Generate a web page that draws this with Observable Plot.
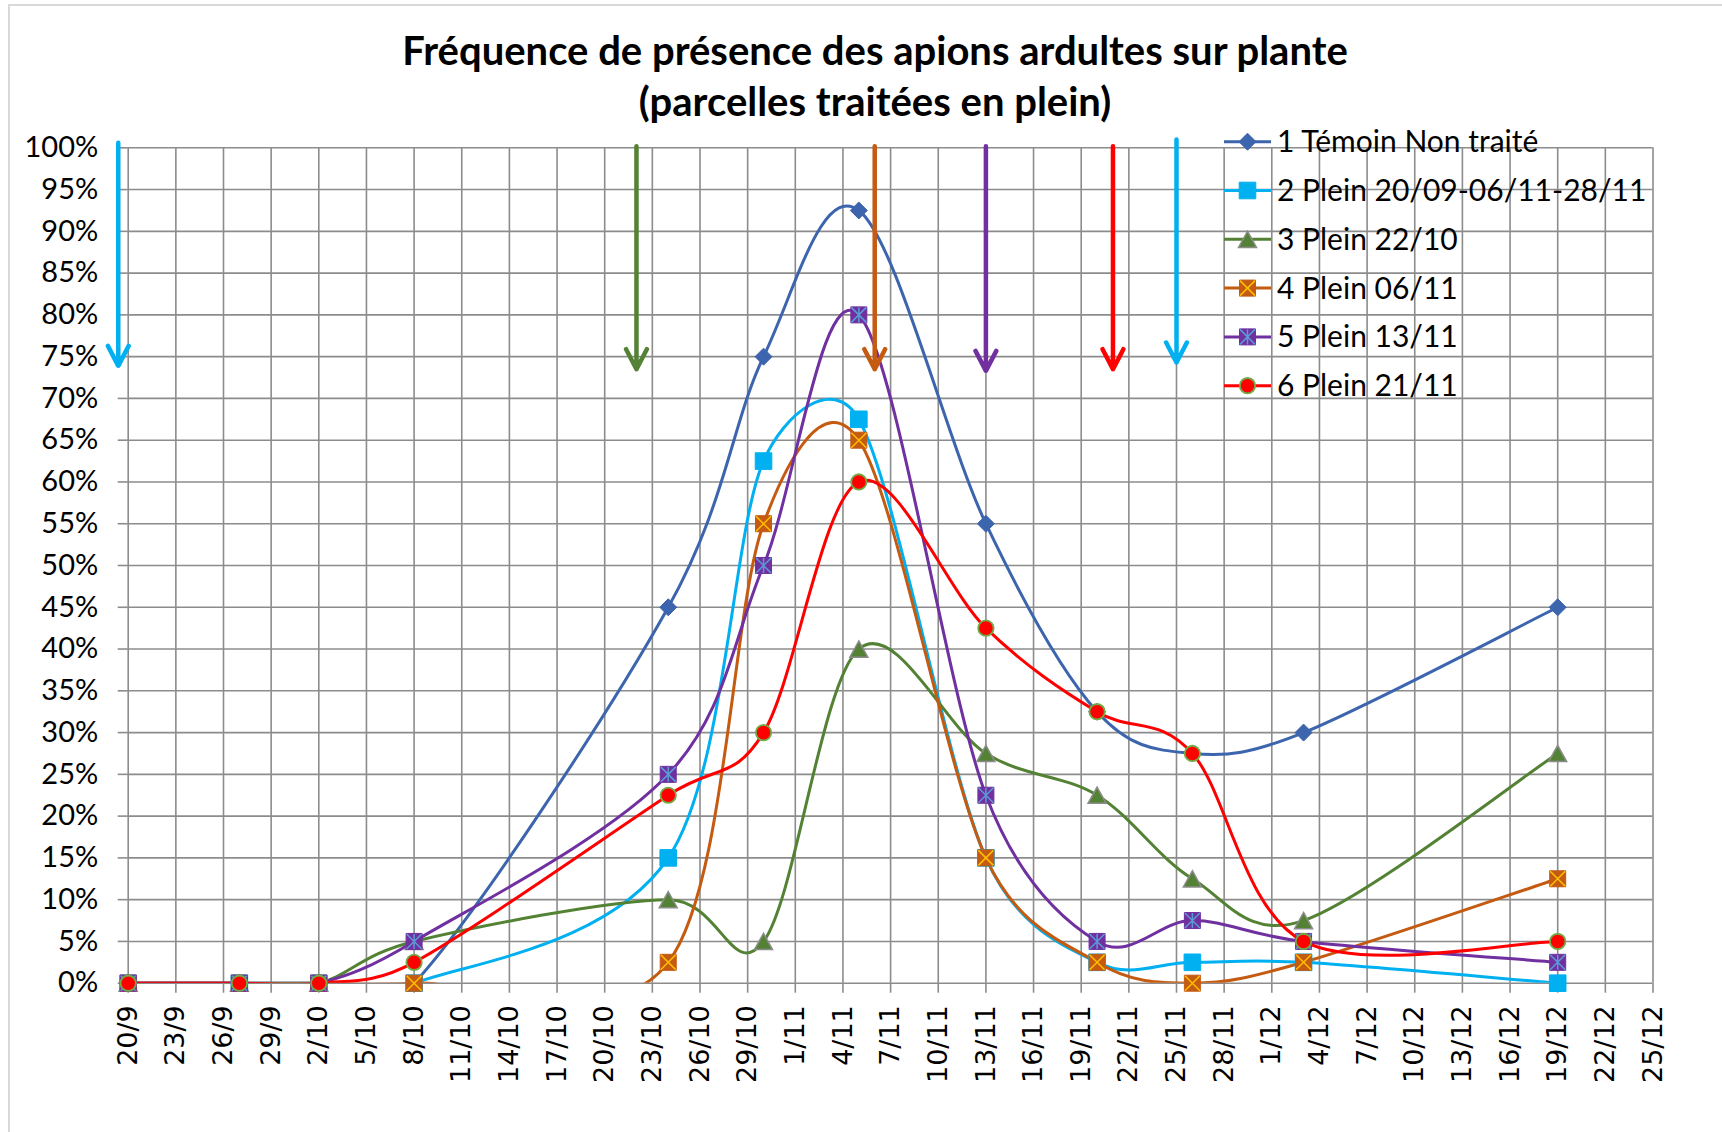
<!DOCTYPE html>
<html>
<head>
<meta charset="utf-8">
<script src="https://cdn.jsdelivr.net/npm/d3@7"></script>
<script src="https://cdn.jsdelivr.net/npm/@observablehq/plot@0.6"></script>
<style>
html, body { margin: 0; padding: 0; background: #ffffff; }
body { width: 1722px; height: 1132px; overflow: hidden; position: relative; }
#frame { position: absolute; left: 8px; top: 4px; width: 1800px; height: 1200px;
  border-top: 2px solid #d9d9d9; border-left: 2px solid #d9d9d9; pointer-events: none; }
#title { box-sizing: border-box; height: 120px; width: 1750px; padding-top: 25px;
  text-align: center; font-family: Lato, sans-serif; font-weight: bold; font-size: 40px;
  line-height: 51px; color: #000; position: relative; }
#chart { position: relative; }
</style>
</head>
<body>
<div id="frame"></div>
<div id="title">Fréquence de présence des apions ardultes sur plante<br>(parcelles traitées en plein)</div>
<div id="chart"></div>
<script>
// ---------- data ----------
const sampleDates = ["20/9","27/9","2/10","8/10","24/10","30/10","5/11","13/11","20/11","26/11","3/12","19/12"];
const seriesNames = ["1 Témoin Non traité","2 Plein 20/09-06/11-28/11","3 Plein 22/10","4 Plein 06/11","5 Plein 13/11","6 Plein 21/11"];
const temoin      = [0, 0, 0, 0,   45,   75,   92.5, 55,   32.5, 27.5, 30,  45];
const plein2      = [0, 0, 0, 0,   15,   62.5, 67.5, 15,   2.5,  2.5,  2.5, 0];
const plein3      = [0, 0, 0, 5,   10,   5,    40,   27.5, 22.5, 12.5, 7.5, 27.5];
const plein4      = [0, 0, 0, 0,   2.5,  55,   65,   15,   2.5,  0,    2.5, 12.5];
const plein5      = [0, 0, 0, 5,   25,   50,   80,   22.5, 5,    7.5,  5,   2.5];
const plein6      = [0, 0, 0, 2.5, 22.5, 30,   60,   42.5, 32.5, 27.5, 5,   5];
const seriesValues = [temoin, plein2, plein3, plein4, plein5, plein6];

const xTickLabels = ["20/9","23/9","26/9","29/9","2/10","5/10","8/10","11/10","14/10","17/10","20/10","23/10","26/10","29/10","1/11","4/11","7/11","10/11","13/11","16/11","19/11","22/11","25/11","28/11","1/12","4/12","7/12","10/12","13/12","16/12","19/12","22/12","25/12"];
const yTicks = [0,5,10,15,20,25,30,35,40,45,50,55,60,65,70,75,80,85,90,95,100];

// treatment arrows (as drawn on the picture)
const arrowDates = ["2013-09-19T09:00Z","2013-10-22T00:00Z","2013-11-06T00:00Z","2013-11-13T00:00Z","2013-11-21T00:00Z","2013-11-25T00:00Z"];
const arrowTop   = [100.6, 100.2, 100.2, 100.2, 100.2, 101];
const arrowTip   = [73.9, 73.5, 73.5, 73.3, 73.5, 74.3];
const arrowColors = ["#00b0f0","#548235","#c55a11","#7030a0","#ff0000","#00b0f0"];

// ---------- styles ----------
const colors = ["#3c65ae","#00b0f0","#548235","#c55a11","#7030a0","#ff0000"];
const GRID = "#8c8c8c";

const rOf = size => Math.sqrt(size / Math.PI);
const symDiamond = {draw(c, s){ const r = rOf(s); c.moveTo(0,-r); c.lineTo(r,0); c.lineTo(0,r); c.lineTo(-r,0); c.closePath(); }};
const symSquare = {draw(c, s){ const r = rOf(s); c.rect(-r,-r,2*r,2*r); }};
const symTriangle = {draw(c, s){ const r = rOf(s); c.moveTo(0,-0.9*r); c.lineTo(r,0.9*r); c.lineTo(-r,0.9*r); c.closePath(); }};
const symCircle = {draw(c, s){ const r = rOf(s); c.moveTo(r,0); c.arc(0,0,r,0,2*Math.PI); }};
const symTimes = {draw(c, s){ const r = rOf(s); c.moveTo(-r,-r); c.lineTo(r,r); c.moveTo(r,-r); c.lineTo(-r,r); }};
const symAster = {draw(c, s){ const r = rOf(s); c.moveTo(0,-r); c.lineTo(0,r); c.moveTo(-r,-r); c.lineTo(r,r); c.moveTo(r,-r); c.lineTo(-r,r); }};

const markerSpecs = [
  [{symbol: symDiamond, r: 8.5, fill: "#3c65ae", stroke: "#3c65ae", strokeWidth: 1}],
  [{symbol: symSquare, r: 8.3, fill: "#00b0f0", stroke: "#00b0f0", strokeWidth: 1}],
  [{symbol: symTriangle, r: 9, fill: "#548235", stroke: "#8c8c8c", strokeWidth: 1.5}],
  [{symbol: symSquare, r: 8, fill: "#c55a11", stroke: "#c55a11", strokeWidth: 1},
   {symbol: symTimes, r: 7.5, fill: "none", stroke: "#ffc000", strokeWidth: 1.5}],
  [{symbol: symSquare, r: 8, fill: "#7030a0", stroke: "#7030a0", strokeWidth: 1},
   {symbol: symAster, r: 7.5, fill: "none", stroke: "#5b9bd5", strokeWidth: 1.5}],
  [{symbol: symCircle, r: 7.7, fill: "#ff0000", stroke: "#70ad47", strokeWidth: 1.8}]
];

// Spreadsheet-style smoothing: Bezier segments, tangents (P[i+1]-P[i-1])/6 limited to half the segment length
const SMOOTH_LIMIT = 0.5;
function smoothCurve(context) {
  let pts = [];
  return {
    areaStart() {}, areaEnd() {},
    lineStart() { pts = []; },
    point(x, y) { pts.push([+x, +y]); },
    lineEnd() {
      const n = pts.length;
      if (!n) return;
      context.moveTo(pts[0][0], pts[0][1]);
      if (n === 2) { context.lineTo(pts[1][0], pts[1][1]); return; }
      for (let i = 0; i < n - 1; i++) {
        const p0 = pts[Math.max(0, i - 1)], p1 = pts[i], p2 = pts[i + 1], p3 = pts[Math.min(n - 1, i + 2)];
        const lim = SMOOTH_LIMIT * Math.hypot(p2[0] - p1[0], p2[1] - p1[1]);
        let t1 = [(p2[0] - p0[0]) / 6, (p2[1] - p0[1]) / 6];
        let t2 = [(p3[0] - p1[0]) / 6, (p3[1] - p1[1]) / 6];
        const m1 = Math.hypot(t1[0], t1[1]), m2 = Math.hypot(t2[0], t2[1]);
        if (m1 > lim && m1 > 0) t1 = [t1[0] * lim / m1, t1[1] * lim / m1];
        if (m2 > lim && m2 > 0) t2 = [t2[0] * lim / m2, t2[1] * lim / m2];
        context.bezierCurveTo(p1[0] + t1[0], p1[1] + t1[1], p2[0] - t2[0], p2[1] - t2[1], p2[0], p2[1]);
      }
    }
  };
}

// ---------- build ----------
const parseDM = s => { const [d, m] = s.split("/").map(Number); return new Date(Date.UTC(2013, m - 1, d)); };
const xTicks = xTickLabels.map(parseDM);
const labelByTime = new Map(xTicks.map((d, i) => [+d, xTickLabels[i]]));

const rows = [];
seriesValues.forEach((vals, i) => vals.forEach((v, j) => rows.push({s: i, date: parseDM(sampleDates[j]), v})));
const arrows = arrowDates.map((d, i) => ({date: new Date(d), top: arrowTop[i], tip: arrowTip[i], color: arrowColors[i]}));

const marks = [
  Plot.gridY(yTicks, {stroke: GRID, strokeOpacity: 1, strokeWidth: 1.6}),
  Plot.gridX(xTicks, {stroke: GRID, strokeOpacity: 1, strokeWidth: 1.6}),
  Plot.axisY(yTicks, {tickFormat: d => d + "%", tickSize: 10, tickPadding: 20, stroke: GRID, strokeWidth: 1.6,
    color: "#000", fontSize: 29, fontFamily: "Lato"}),
  Plot.axisX(xTicks, {tickFormat: d => labelByTime.get(+d), tickSize: 10, tickPadding: 12, tickRotate: -90,
    stroke: GRID, strokeWidth: 1.6, color: "#000", fontSize: 27, fontFamily: "DejaVu Sans"})
];

seriesValues.forEach((_, i) => {
  marks.push(Plot.line(rows.filter(r => r.s === i), {x: "date", y: "v", stroke: colors[i], strokeWidth: 3,
    curve: smoothCurve, clip: true}));
});
seriesValues.forEach((_, i) => {
  for (const spec of markerSpecs[i]) {
    marks.push(Plot.dot(rows.filter(r => r.s === i), {x: "date", y: "v", ...spec}));
  }
});
arrows.forEach(a => {
  marks.push(Plot.arrow([a], {x1: "date", x2: "date", y1: "top", y2: "tip", stroke: a.color,
    strokeWidth: 4.5, headAngle: 55, headLength: 7.5}));
});

const svgTop = 120;
const chart = Plot.plot({
  width: 1722,
  height: 1132 - svgTop,
  marginTop: 147.3 - svgTop,
  marginBottom: 1132 - 982.7,
  marginLeft: 127.7,
  marginRight: 1722 - 1652.5,
  x: {type: "utc", domain: [parseDM("20/9"), parseDM("25/12")]},
  y: {domain: [0, 100]},
  style: {fontFamily: "Lato", fontSize: "29px", background: "transparent", overflow: "visible", color: "#000"},
  marks
});
document.getElementById("chart").appendChild(chart);

// ---------- legend ----------
const svg = d3.select(chart);
const lg = svg.append("g").attr("font-family", "Lato").attr("font-size", 30).attr("text-anchor", "start");
const legendX0 = 1224, legendX1 = 1271, legendTextX = 1277, legendY0 = 141.7 - svgTop, legendDy = 48.8;
seriesNames.forEach((name, i) => {
  const y = legendY0 + i * legendDy;
  const g = lg.append("g").attr("transform", `translate(0,${y})`);
  g.append("line").attr("x1", legendX0).attr("x2", legendX1).attr("y1", 0).attr("y2", 0)
    .attr("stroke", colors[i]).attr("stroke-width", 3);
  const cx = (legendX0 + legendX1) / 2;
  for (const spec of markerSpecs[i]) {
    g.append("path").attr("transform", `translate(${cx},0)`)
      .attr("d", d3.symbol().type(spec.symbol).size(Math.PI * spec.r * spec.r)())
      .attr("fill", spec.fill).attr("stroke", spec.stroke).attr("stroke-width", spec.strokeWidth);
  }
  g.append("text").attr("x", legendTextX).attr("y", 0).attr("dy", "0.35em").attr("fill", "#000").text(name);
});
</script>
</body>
</html>
